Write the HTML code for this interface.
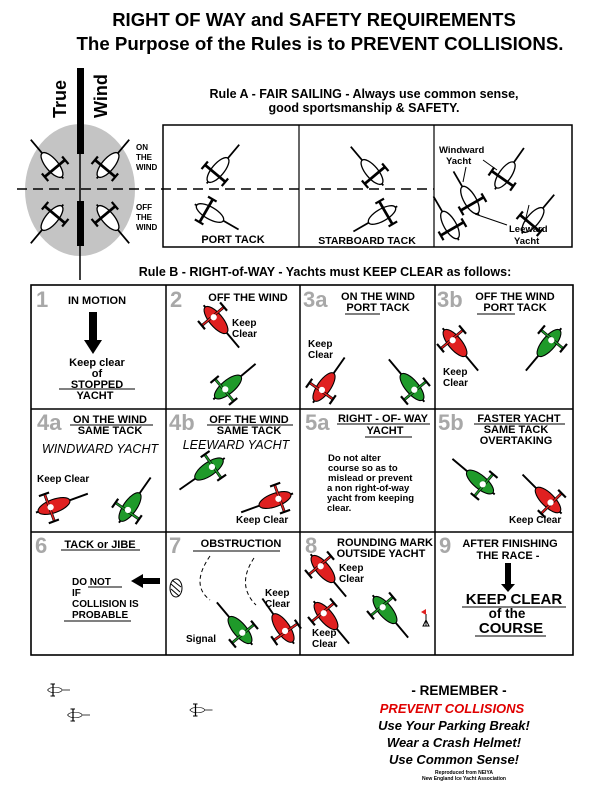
<!DOCTYPE html>
<html><head><meta charset="utf-8"><style>
html,body{margin:0;padding:0;background:#fff}
svg{display:block}
text{font-family:"Liberation Sans",Arial,sans-serif;font-weight:bold;fill:#000}
.g{fill:#a8a8a8;font-size:22px}
.h{font-size:11px;text-anchor:middle}
.s{font-size:10px}
</style></head><body>
<svg width="600" height="796" viewBox="0 0 600 796" xmlns="http://www.w3.org/2000/svg">
<defs>
<g id="bw0">
<line x1="0" y1="-30" x2="0" y2="16" stroke="#000" stroke-width="1.6"/>
<ellipse cx="0" cy="0" rx="5.5" ry="14" fill="#fff" stroke="#000" stroke-width="1.2"/>
<line x1="-12" y1="4" x2="12" y2="4" stroke="#000" stroke-width="2.5"/>
<line x1="-12" y1="0" x2="-12" y2="9" stroke="#000" stroke-width="2"/>
<line x1="12" y1="0" x2="12" y2="9" stroke="#000" stroke-width="2"/>
</g>
<g id="bw"><use href="#bw0" transform="scale(1.1)"/></g>
<g id="br0">
<line x1="0" y1="-30" x2="0" y2="16" stroke="#000" stroke-width="1.6"/>
<ellipse cx="0" cy="0" rx="5.5" ry="14" fill="#e02020" stroke="#000" stroke-width="0.9"/>
<line x1="-12" y1="4" x2="12" y2="4" stroke="#000" stroke-width="2.3"/>
<line x1="-12" y1="4" x2="12" y2="4" stroke="#e02020" stroke-width="1.3"/>
<line x1="-12" y1="0" x2="-12" y2="9" stroke="#000" stroke-width="1.8"/>
<line x1="12" y1="0" x2="12" y2="9" stroke="#000" stroke-width="1.8"/>
<circle cx="0" cy="3" r="2.6" fill="#fff"/>
</g>
<g id="br"><use href="#br0" transform="scale(1.2)"/></g>
<g id="bg0">
<line x1="0" y1="-30" x2="0" y2="16" stroke="#000" stroke-width="1.6"/>
<ellipse cx="0" cy="0" rx="5.5" ry="14" fill="#1f9a2a" stroke="#000" stroke-width="0.9"/>
<line x1="-12" y1="4" x2="12" y2="4" stroke="#000" stroke-width="2.3"/>
<line x1="-12" y1="4" x2="12" y2="4" stroke="#1f9a2a" stroke-width="1.3"/>
<line x1="-12" y1="0" x2="-12" y2="9" stroke="#000" stroke-width="1.8"/>
<line x1="12" y1="0" x2="12" y2="9" stroke="#000" stroke-width="1.8"/>
<circle cx="0" cy="3" r="2.6" fill="#fff"/>
</g>
<g id="bg"><use href="#bg0" transform="scale(1.2)"/></g>
</defs>

<text x="314" y="26" text-anchor="middle" style="font-size:18.5px">RIGHT OF WAY and SAFETY REQUIREMENTS</text>
<text x="320" y="50" text-anchor="middle" style="font-size:18.7px">The Purpose of the Rules is to PREVENT COLLISIONS.</text>

<ellipse cx="80" cy="190" rx="55" ry="66" fill="#c4c4c4"/>
<line x1="80" y1="68" x2="80" y2="280" stroke="#000" stroke-width="1.5"/>
<rect x="77" y="68" width="7" height="86" fill="#000"/>
<rect x="77" y="201" width="7" height="45" fill="#000"/>
<text transform="translate(66,118) rotate(-90)" style="font-size:18px">True</text>
<text transform="translate(107,118) rotate(-90)" style="font-size:18px">Wind</text>
<line x1="17" y1="189" x2="434" y2="189" stroke="#000" stroke-width="1.5" stroke-dasharray="10,6"/>
<use href="#bw" transform="translate(52,165) rotate(-40)"/>
<use href="#bw" transform="translate(108,165) rotate(40)"/>
<use href="#bw" transform="translate(52,218) rotate(-140)"/>
<use href="#bw" transform="translate(108,218) rotate(140)"/>
<text x="136" y="150" style="font-size:8px">ON</text>
<text x="136" y="160" style="font-size:8px">THE</text>
<text x="136" y="170" style="font-size:8px">WIND</text>
<text x="136" y="210" style="font-size:8px">OFF</text>
<text x="136" y="220" style="font-size:8px">THE</text>
<text x="136" y="230" style="font-size:8px">WIND</text>

<text x="364" y="98" text-anchor="middle" style="font-size:12.5px">Rule A -  FAIR SAILING - Always use common sense,</text>
<text x="364" y="112" text-anchor="middle" style="font-size:12.5px">good sportsmanship &amp; SAFETY.</text>

<rect x="163" y="125" width="409" height="122" fill="none" stroke="#000" stroke-width="1.5"/>
<line x1="299" y1="125" x2="299" y2="247" stroke="#000" stroke-width="1.2"/>
<line x1="434" y1="125" x2="434" y2="247" stroke="#000" stroke-width="1.2"/>
<use href="#bw" transform="translate(218,170) rotate(40)"/>
<use href="#bw" transform="translate(210,213) rotate(120)"/>
<text x="233" y="243" text-anchor="middle" style="font-size:11px">PORT TACK</text>
<use href="#bw" transform="translate(372,172) rotate(-40)"/>
<use href="#bw" transform="translate(382,215) rotate(-120)"/>
<text x="367" y="244" text-anchor="middle" style="font-size:10.5px">STARBOARD TACK</text>
<use href="#bw" transform="translate(505,175) rotate(35)"/>
<use href="#bw" transform="translate(470,200) rotate(-30)"/>
<use href="#bw" transform="translate(533,220) rotate(40)"/>
<use href="#bw" transform="translate(450,225) rotate(-30)"/>
<text x="439" y="153" style="font-size:9.5px">Windward</text>
<text x="446" y="164" style="font-size:9.5px">Yacht</text>
<line x1="466" y1="167" x2="463" y2="182" stroke="#000"/>
<line x1="483" y1="160" x2="497" y2="170" stroke="#000"/>
<text x="509" y="232" style="font-size:9.5px">Leeward</text>
<text x="514" y="244" style="font-size:9.5px">Yacht</text>
<line x1="507" y1="225" x2="475" y2="214" stroke="#000"/>
<line x1="525" y1="222" x2="529" y2="205" stroke="#000"/>

<text x="325" y="276" text-anchor="middle" style="font-size:12.5px">Rule B - RIGHT-of-WAY - Yachts must KEEP CLEAR as follows:</text>

<rect x="31" y="285" width="542" height="370" fill="none" stroke="#000" stroke-width="1.6"/>
<line x1="166" y1="285" x2="166" y2="655" stroke="#000" stroke-width="1.5"/>
<line x1="300" y1="285" x2="300" y2="655" stroke="#000" stroke-width="1.5"/>
<line x1="435" y1="285" x2="435" y2="655" stroke="#000" stroke-width="1.5"/>
<line x1="31" y1="409" x2="573" y2="409" stroke="#000" stroke-width="1.5"/>
<line x1="31" y1="532" x2="573" y2="532" stroke="#000" stroke-width="1.5"/>

<text x="36" y="307" class="g">1</text>
<text x="97" y="304" class="h">IN MOTION</text>
<rect x="89" y="312" width="8" height="30" fill="#000"/>
<polygon points="84,340 102,340 93,354" fill="#000"/>
<text x="97" y="366" class="h">Keep clear</text>
<text x="97" y="377" class="h">of</text>
<text x="97" y="388" class="h">STOPPED</text>
<line x1="59" y1="389" x2="135" y2="389" stroke="#000"/>
<text x="95" y="399" class="h">YACHT</text>

<text x="170" y="307" class="g">2</text>
<text x="248" y="301" class="h">OFF THE WIND</text>
<use href="#br" transform="translate(216,320) rotate(140)"/>
<text x="232" y="326" class="s">Keep</text>
<text x="232" y="337" class="s">Clear</text>
<use href="#bg" transform="translate(228,387) rotate(50)"/>

<text x="303" y="307" class="g">3a</text>
<text x="378" y="300" class="h">ON THE WIND</text>
<text x="378" y="311" class="h">PORT TACK</text>
<line x1="345" y1="314" x2="380" y2="314" stroke="#000"/>
<text x="308" y="347" class="s">Keep</text>
<text x="308" y="358" class="s">Clear</text>
<use href="#br" transform="translate(324,387) rotate(35)"/>
<use href="#bg" transform="translate(412,387) rotate(-40)"/>

<text x="437" y="307" class="g">3b</text>
<text x="515" y="300" class="h">OFF THE WIND</text>
<text x="515" y="311" class="h">PORT TACK</text>
<line x1="477" y1="314" x2="515" y2="314" stroke="#000"/>
<use href="#br" transform="translate(455,343) rotate(140)"/>
<text x="443" y="375" class="s">Keep</text>
<text x="443" y="386" class="s">Clear</text>
<use href="#bg" transform="translate(549,343) rotate(-140)"/>

<text x="37" y="430" class="g">4a</text>
<text x="110" y="423" class="h">ON THE WIND</text>
<line x1="70" y1="425" x2="153" y2="425" stroke="#000"/>
<text x="110" y="434" class="h">SAME TACK</text>
<text x="100" y="453" text-anchor="middle" style="font-size:12.5px;font-weight:normal;font-style:italic">WINDWARD YACHT</text>
<text x="37" y="482" class="s">Keep Clear</text>
<use href="#br" transform="translate(54,506) rotate(70)"/>
<use href="#bg" transform="translate(130,507) rotate(35)"/>

<text x="169" y="430" class="g">4b</text>
<text x="249" y="423" class="h">OFF THE WIND</text>
<line x1="207" y1="425" x2="293" y2="425" stroke="#000"/>
<text x="249" y="434" class="h">SAME TACK</text>
<text x="236" y="449" text-anchor="middle" style="font-size:12.5px;font-weight:normal;font-style:italic">LEEWARD YACHT</text>
<use href="#bg" transform="translate(209,469) rotate(-125)"/>
<use href="#br" transform="translate(275,500) rotate(-110)"/>
<text x="236" y="523" class="s">Keep Clear</text>

<text x="305" y="430" class="g">5a</text>
<text x="383" y="422" class="h">RIGHT - OF- WAY</text>
<line x1="337" y1="424" x2="430" y2="424" stroke="#000"/>
<text x="385" y="434" class="h">YACHT</text>
<line x1="365" y1="437" x2="412" y2="437" stroke="#000"/>
<text x="328" y="461" style="font-size:9.5px">Do not alter</text>
<text x="328" y="471" style="font-size:9.5px">course so as to</text>
<text x="328" y="481" style="font-size:9.5px">mislead or prevent</text>
<text x="327" y="491" style="font-size:9.5px">a non right-of-way</text>
<text x="327" y="501" style="font-size:9.5px">yacht from keeping</text>
<text x="327" y="511" style="font-size:9.5px">clear.</text>

<text x="438" y="430" class="g">5b</text>
<text x="519" y="422" class="h">FASTER YACHT</text>
<line x1="474" y1="424" x2="565" y2="424" stroke="#000"/>
<text x="516" y="433" class="h">SAME TACK</text>
<text x="516" y="444" class="h">OVERTAKING</text>
<use href="#bg" transform="translate(480,482) rotate(-50)"/>
<use href="#br" transform="translate(548,500) rotate(-45)"/>
<text x="509" y="523" class="s">Keep Clear</text>

<text x="35" y="553" class="g">6</text>
<text x="100" y="548" class="h">TACK or JIBE</text>
<line x1="61" y1="550" x2="140" y2="550" stroke="#000"/>
<text x="72" y="585" class="s">DO NOT</text>
<line x1="88" y1="587" x2="122" y2="587" stroke="#000"/>
<text x="72" y="596" class="s">IF</text>
<text x="72" y="607" class="s">COLLISION IS</text>
<text x="72" y="618" class="s">PROBABLE</text>
<line x1="64" y1="621" x2="131" y2="621" stroke="#000"/>
<rect x="142" y="578" width="18" height="6" fill="#000"/>
<polygon points="143,574 143,588 131,581" fill="#000"/>

<text x="169" y="553" class="g">7</text>
<text x="241" y="547" class="h">OBSTRUCTION</text>
<line x1="193" y1="551" x2="280" y2="551" stroke="#000"/>
<path d="M210,556 Q190,585 210,600" fill="none" stroke="#000" stroke-dasharray="4,3"/>
<path d="M254,558 Q236,585 256,605" fill="none" stroke="#000" stroke-dasharray="4,3"/>
<ellipse cx="176" cy="588" rx="6" ry="9" fill="#fff" stroke="#000"/>
<line x1="171" y1="584" x2="180" y2="592" stroke="#000"/>
<line x1="171" y1="589" x2="179" y2="596" stroke="#000"/>
<line x1="172" y1="580" x2="181" y2="587" stroke="#000"/>
<text x="265" y="596" class="s">Keep</text>
<text x="265" y="607" class="s">Clear</text>
<text x="186" y="642" class="s">Signal</text>
<use href="#bg" transform="translate(240,630) rotate(-40)"/>
<use href="#br" transform="translate(283,628) rotate(-35)"/>

<text x="305" y="553" class="g">8</text>
<text x="385" y="546" class="h">ROUNDING MARK</text>
<text x="381" y="557" class="h">OUTSIDE YACHT</text>
<use href="#br" transform="translate(323,569) rotate(140)"/>
<text x="339" y="571" class="s">Keep</text>
<text x="339" y="582" class="s">Clear</text>
<use href="#br" transform="translate(326,616) rotate(140)"/>
<text x="312" y="636" class="s">Keep</text>
<text x="312" y="647" class="s">Clear</text>
<use href="#bg" transform="translate(385,610) rotate(140)"/>
<line x1="426" y1="614" x2="426" y2="626" stroke="#000"/>
<polygon points="423,626 429,626 426,620" fill="none" stroke="#000"/>
<polygon points="426,609 421,612 426,615" fill="#e02020"/>

<text x="439" y="553" class="g">9</text>
<text x="510" y="547" class="h">AFTER FINISHING</text>
<text x="508" y="559" class="h">THE RACE -</text>
<rect x="505" y="563" width="6" height="23" fill="#000"/>
<polygon points="501,584 515,584 508,592" fill="#000"/>
<text x="514" y="604" text-anchor="middle" style="font-size:15px">KEEP CLEAR</text>
<line x1="462" y1="607" x2="566" y2="607" stroke="#000"/>
<text x="507" y="618" text-anchor="middle" style="font-size:13.5px">of the</text>
<text x="511" y="633" text-anchor="middle" style="font-size:15px">COURSE</text>
<line x1="475" y1="636" x2="546" y2="636" stroke="#000"/>

<g transform="scale(0.5)">
<use href="#bw0" transform="translate(110,1380) rotate(90)"/>
<use href="#bw0" transform="translate(150,1430) rotate(90)"/>
<use href="#bw0" transform="translate(395,1420) rotate(90)"/>
</g>
<text x="459" y="695" text-anchor="middle" style="font-size:13.5px">- REMEMBER -</text>
<text x="452" y="713" text-anchor="middle" style="font-size:13px;font-style:italic;fill:#e00000">PREVENT COLLISIONS</text>
<text x="454" y="730" text-anchor="middle" style="font-size:13px;font-style:italic">Use Your Parking Break!</text>
<text x="454" y="747" text-anchor="middle" style="font-size:13px;font-style:italic">Wear a Crash Helmet!</text>
<text x="454" y="764" text-anchor="middle" style="font-size:13px;font-style:italic">Use Common Sense!</text>
<text x="464" y="774" text-anchor="middle" style="font-size:5px">Reproduced from NEIYA</text>
<text x="464" y="780" text-anchor="middle" style="font-size:5px">New England Ice Yacht Association</text>
</svg>
</body></html>
